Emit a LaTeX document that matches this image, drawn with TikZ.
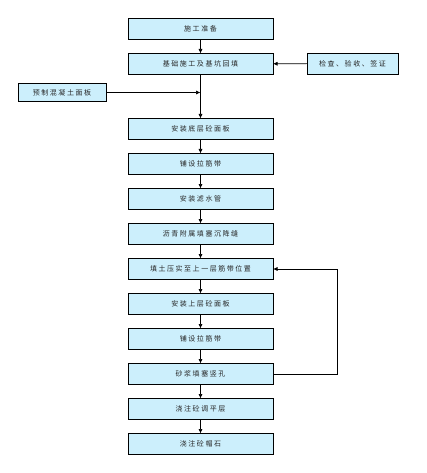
\documentclass[tikz,border=0pt]{standalone}
\usepackage{fontspec}
\setmainfont{Noto Sans CJK SC}[LetterSpace=22]
\usetikzlibrary{arrows.meta}
\usetikzlibrary{positioning}

\begin{document}
\begin{tikzpicture}[x=1pt,y=-1pt]
        \tikzset{
          >={Latex[length=4.5pt,width=4pt]},
          node distance=14pt,
          every node/.style={font=\fontsize{7}{8}\selectfont, text=black!85},
          stage/.style={
            draw,
            line width=0.8pt,
            fill=cyan!20,
            minimum width=145pt,
            minimum height=21pt,
            inner sep=0pt,
            outer sep=0pt,
          },
          flow/.style={->, line width=0.7pt},
        }
        \useasboundingbox (0,0) rectangle (427,473);

        \node[stage] (s1) at (200.5,29) {施工准备};
        \node[stage, below=of s1] (s2) {基础施工及基坑回填};
        \node[stage, below=44pt of s2] (s3) {安装底层砼面板};
        \node[stage, below=of s3] (s4) {铺设拉筋带};
        \node[stage, below=of s4] (s5) {安装滤水管};
        \node[stage, below=of s5] (s6) {沥青附属填塞沉降缝};
        \node[stage, below=of s6] (s7) {填土压实至上一层筋带位置};
        \node[stage, below=of s7] (s8) {安装上层砼面板};
        \node[stage, below=of s8] (s9) {铺设拉筋带};
        \node[stage, below=of s9] (s10) {砂浆填塞竖孔};
        \node[stage, below=of s10] (s11) {浇注砼调平层};
        \node[stage, below=of s11] (s12) {浇注砼帽石};

        \node[stage, minimum width=88pt, minimum height=18pt] (pre) at (62,92.5) {预制混凝土面板};
        \node[stage, minimum width=91pt] (chk) at (352.5,63.5) {检查、验收、签证};

        \foreach \a/\b in {s1/s2, s2/s3, s3/s4, s4/s5, s5/s6, s6/s7,
                           s7/s8, s8/s9, s9/s10, s10/s11, s11/s12}
          \draw[flow] (\a) -- (\b);

        \draw[flow] (pre.east) -- (pre.east -| s3.north);
        \draw[flow] (chk) -- (s2);
        \draw[flow] (s10.east) -- ++(64,0) |- (s7.east);
      \end{tikzpicture}
\end{document}
